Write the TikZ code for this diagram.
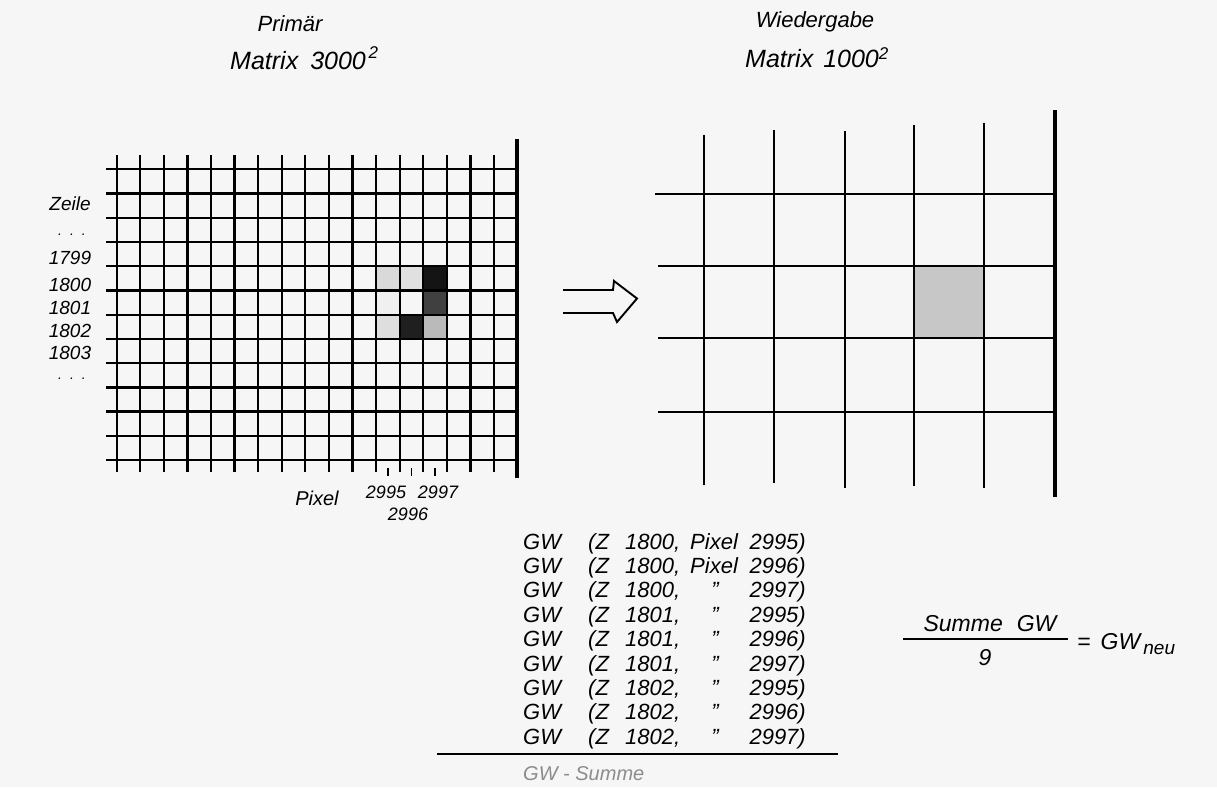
\documentclass[tikz,border=0pt]{standalone}
\usepackage{fontspec}
\setmainfont{Liberation Sans}
\definecolor{paper}{HTML}{F6F6F6}
\begin{document}
\begin{tikzpicture}[x=1pt,y=-1pt,
  gridln/.style={line width=2.3pt, black},
  thickln/.style={line width=4pt, black},
  rgridv/.style={line width=1.4pt, black},
  rgridh/.style={line width=2pt, black},
  titletxt/.style={font=\itshape\fontsize{22}{26}\selectfont, inner sep=0pt},
  mattxt/.style={font=\itshape\fontsize{25}{28}\selectfont, inner sep=0pt},
  rowlbl/.style={font=\itshape\fontsize{19}{22}\selectfont, inner sep=0pt},
  dotlbl/.style={font=\itshape\fontsize{14}{16}\selectfont, inner sep=0pt},
  pixlbl/.style={font=\itshape\fontsize{18}{21}\selectfont, inner sep=0pt},
  listtxt/.style={font=\itshape\fontsize{22}{26}\selectfont, inner sep=0pt},
  fractxt/.style={font=\itshape\fontsize{23}{26}\selectfont, inner sep=0pt}
]
\useasboundingbox (0,0) rectangle (1217,787);
\fill[paper] (0,0) rectangle (1217,787);

% ---------- left grid: shaded cells ----------
\foreach \c/\r/\d in {11/4/15, 12/4/12, 13/4/92, 11/5/6, 13/5/75, 11/6/13, 12/6/88, 13/6/27}
  \fill[black!\d] ({116.7+23.58*\c},{169.3+24.23*\r}) rectangle ({116.7+23.58*(\c+1)},{169.3+24.23*(\r+1)});

% ---------- left grid lines ----------
\foreach \i in {0,...,16}
  \draw[gridln] ({116.7+23.58*\i},155) -- ({116.7+23.58*\i},472);
\foreach \j in {0,...,12}
  \draw[gridln] (106,{169.3+24.23*\j}) -- (517,{169.3+24.23*\j});
\draw[thickln] (517,139) -- (517,478);
\foreach \c in {11,12,13}
  \draw[line width=1.3pt] ({116.7+23.58*(\c+0.5)},468) -- ++(0,8);

% ---------- arrow ----------
\draw[line width=1.9pt, line join=miter] (563,290) -- (613,290) -- (614,281) -- (637,298.5) -- (617,322) -- (613,313) -- (563,313);

% ---------- right grid ----------
\fill[black!22] (914,266) rectangle (984,338);
\foreach \x/\t/\b in {704/135/485, 774/130/483, 845/131/488, 914/125/486, 984/123/488}
  \draw[rgridv] (\x,\t) -- (\x,\b);
\foreach \y/\l in {194/655, 266/658, 338/658, 412/658}
  \draw[rgridh] (\l,\y) -- (1055,\y);
\draw[thickln] (1055,110) -- (1055,497);

% ---------- titles ----------
\node[titletxt] (prim) at (290,24) {Primär};
\node[mattxt, anchor=west] (mat1) at (230,58) {Matrix\hspace{12pt}3000\raisebox{11pt}{\fontsize{17}{17}\selectfont\,2}};
\node[titletxt] (wied) at (815,22) {Wiedergabe};
\node[mattxt, anchor=west] (mat2) at (745,58) {Matrix\hspace{10pt}1000\raisebox{8pt}{\fontsize{17}{17}\selectfont 2}};

% ---------- row labels ----------
\node[rowlbl] (zeile) at (70,204) {Zeile};
\node[dotlbl, anchor=base] (dots1) at (72,235) {.\hspace{8pt}.\hspace{8pt}.};
\node[rowlbl] (r1799) at (70,258) {1799};
\node[rowlbl] (r1800) at (70,285) {1800};
\node[rowlbl] (r1801) at (70,308) {1801};
\node[rowlbl] (r1802) at (70,331) {1802};
\node[rowlbl] (r1803) at (70,353) {1803};
\node[dotlbl, anchor=base] (dots2) at (72,379) {.\hspace{8pt}.\hspace{8pt}.};

% ---------- pixel labels ----------
\node[pixlbl, font=\itshape\fontsize{20}{22}\selectfont] (pixel) at (317,498) {Pixel};
\node[pixlbl] (p2995) at (386,492) {2995};
\node[pixlbl] (p2997) at (438,492) {2997};
\node[pixlbl] (p2996) at (408,514) {2996};

% ---------- list ----------
\foreach \k/\z/\n in {0/1800/2995, 1/1800/2996, 2/1800/2997, 3/1801/2995, 4/1801/2996, 5/1801/2997, 6/1802/2995, 7/1802/2996, 8/1802/2997} {
  \node[listtxt, anchor=base west] (gw\k) at (523,{549+24.4*\k}) {GW};
  \node[listtxt, anchor=base west] (z\k) at (588,{549+24.4*\k}) {(Z};
  \node[listtxt, anchor=base west] (zn\k) at (625,{549+24.4*\k}) {\z,};
  \node[listtxt, anchor=base east] (n\k) at (806,{549+24.4*\k}) {\n)};
}
\node[listtxt, anchor=base west] (px0) at (690,549) {Pixel};
\node[listtxt, anchor=base west] (px1) at (690,573.4) {Pixel};
\foreach \k in {2,...,8}
  \node[listtxt, anchor=base] (dit\k) at (715,{549+24.4*\k}) {''};
\draw[line width=1.4pt] (437,754) -- (838,754);
\node[listtxt, font=\itshape\fontsize{20}{24}\selectfont, text=black!45, anchor=base west] (gwsum) at (523,780) {GW - Summe};

% ---------- formula ----------
\node[fractxt, anchor=base] (num) at (990,631) {Summe\hspace{14pt}GW};
\draw[line width=1.4pt] (903,639) -- (1068,639);
\node[fractxt, anchor=base] (den) at (985,665) {9};
\node[fractxt, anchor=base west] (res) at (1077,649) {=\hspace{10pt}GW\raisebox{-5pt}{\fontsize{19}{19}\selectfont\,neu}};
\end{tikzpicture}
\end{document}
